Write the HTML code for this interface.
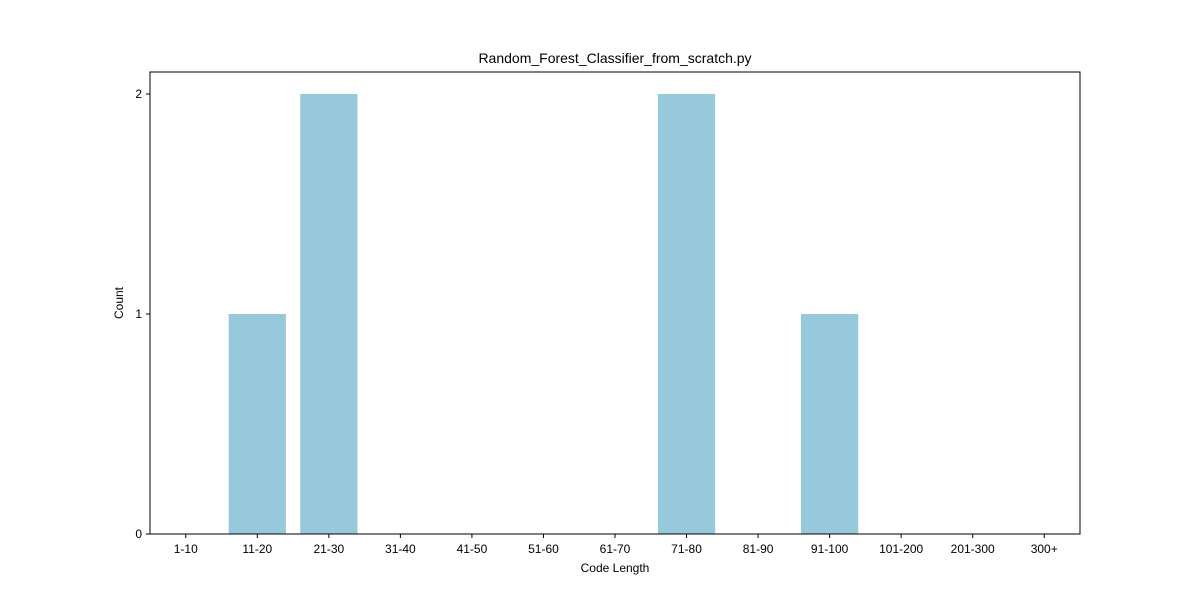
<!DOCTYPE html>
<html><head><meta charset="utf-8"><style>
body{margin:0;background:#fff;}
svg text{font-family:"Liberation Sans",sans-serif;fill:#000;}
</style></head><body>
<svg id="chart" width="1200" height="600" xmlns="http://www.w3.org/2000/svg">
<rect width="1200" height="600" fill="#fff"/>
<text x="615" y="63" font-size="14" text-anchor="middle">Random_Forest_Classifier_from_scratch.py</text>
<g id="bars"></g>
<g id="xticks"></g>
<g id="yticks"></g>
<rect x="150" y="72" width="930" height="462" fill="none" stroke="#000" stroke-width="1"/>
<text x="615" y="572" font-size="12" text-anchor="middle">Code Length</text>
<text x="123" y="303" font-size="12" text-anchor="middle" transform="rotate(-90 123 303)">Count</text>
</svg>
<script>
const categories=["1-10","11-20","21-30","31-40","41-50","51-60","61-70","71-80","81-90","91-100","101-200","201-300","300+"];
const counts=[0,1,2,0,0,0,0,2,0,1,0,0,0];
const yTicks=[0,1,2];
const L=150,R=1080,T=72,B=534,yMax=2.1;
const step=(R-L)/categories.length;
const xs=i=>L+(i+0.5)*step;
const ys=v=>B-(v/yMax)*(B-T);
const ns="http://www.w3.org/2000/svg";
const bars=document.getElementById('bars'),xt=document.getElementById('xticks'),yt=document.getElementById('yticks');
categories.forEach((c,i)=>{
  const w=step*0.8;
  const r=document.createElementNS(ns,'rect');
  r.setAttribute('x',xs(i)-w/2);r.setAttribute('y',ys(counts[i]));
  r.setAttribute('width',w);r.setAttribute('height',B-ys(counts[i]));
  r.setAttribute('fill','#96c9dc');
  
  
  bars.appendChild(r);
  const l=document.createElementNS(ns,'line');
  l.setAttribute('x1',xs(i));l.setAttribute('x2',xs(i));l.setAttribute('y1',B);l.setAttribute('y2',B+4);l.setAttribute('stroke','#000');
  
  
  xt.appendChild(l);
  const t=document.createElementNS(ns,'text');
  t.setAttribute('x',xs(i));t.setAttribute('y',B+19);t.setAttribute('font-size','12');t.setAttribute('text-anchor','middle');
  t.textContent=c;
  
  
  xt.appendChild(t);
});
yTicks.forEach(v=>{
  const l=document.createElementNS(ns,'line');
  l.setAttribute('x1',L-4);l.setAttribute('x2',L);l.setAttribute('y1',ys(v));l.setAttribute('y2',ys(v));l.setAttribute('stroke','#000');
  
  
  yt.appendChild(l);
  const t=document.createElementNS(ns,'text');
  t.setAttribute('x',L-8);t.setAttribute('y',ys(v)+4);t.setAttribute('font-size','12');t.setAttribute('text-anchor','end');
  t.textContent=v;
  
  
  yt.appendChild(t);
});
</script>
</body></html>
